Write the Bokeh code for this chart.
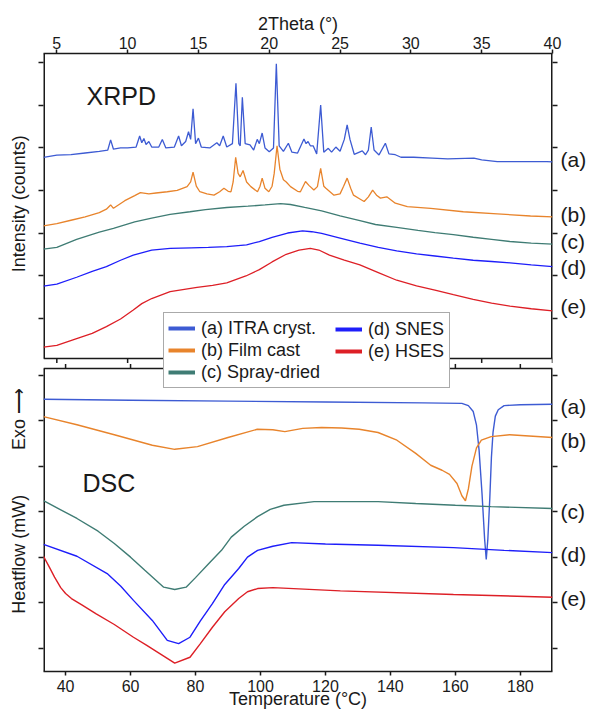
from bokeh.plotting import figure
from bokeh.models import (Range1d, LinearAxis, FixedTicker, Label, Legend, LegendItem,
                          CustomJSTickFormatter)
from bokeh.embed import file_html
from bokeh.resources import INLINE

# ---------------- XRPD data (2Theta in degrees, intensity in arbitrary offset units) -------------
theta_a = [4.06, 5.0, 6.0, 7.0, 8.0, 8.6, 8.8, 9.0, 9.5, 10.0, 10.6, 10.85, 11.0, 11.15, 11.3, 11.5,
           11.7, 12.2, 12.45, 12.7, 13.3, 13.6, 13.8, 14.1, 14.3, 14.45, 14.62, 14.8, 15.0, 15.2,
           15.8, 16.3, 16.5, 16.75, 17.0, 17.4, 17.65, 17.85, 17.95, 18.1, 18.3, 18.64, 18.9,
           19.15, 19.3, 19.5, 19.7, 20.0, 20.3, 20.5, 20.7, 21.0, 21.35, 21.6, 22.0, 22.45, 22.6,
           22.74, 22.9, 23.1, 23.35, 23.63, 23.85, 24.17, 24.4, 24.7, 25.0, 25.3, 25.5, 25.7, 26.0,
           26.57, 26.8, 27.0, 27.2, 27.4, 27.75, 28.2, 28.45, 28.9, 29.3, 30.2, 31.5, 32.6, 34.45,
           35.0, 36.1, 38.0, 39.6, 40.0]
int_a = [3.78, 3.83, 3.84, 3.88, 3.92, 3.95, 4.19, 3.97, 4.0, 4.0, 4.02, 4.28, 4.12, 4.22, 4.08, 4.15,
         4.02, 4.02, 4.20, 4.0, 4.02, 4.28, 4.05, 4.15, 4.38, 4.2, 4.92, 4.1, 4.23, 4.02,
         4.0, 4.12, 4.05, 4.28, 4.02, 4.1, 5.52, 4.1, 4.05, 5.19, 4.1, 4.07, 3.95,
         4.2, 4.1, 4.35, 4.0, 3.91, 4.0, 5.98, 4.05, 3.92, 4.11, 3.9, 3.88, 4.21, 4.1,
         4.15, 4.05, 4.05, 3.86, 5.01, 3.9, 3.99, 3.9, 4.02, 3.92, 4.2, 4.54, 4.2, 3.85,
         3.93, 3.84, 3.95, 4.49, 3.95, 3.835, 4.11, 3.86, 3.84, 3.78, 3.78, 3.76, 3.74, 3.76,
         3.72, 3.68, 3.68, 3.68, 3.67]

theta_b = [4.06, 5.0, 6.0, 7.0, 8.0, 8.5, 8.8, 9.0, 9.8, 10.5, 10.9, 11.5, 12.0, 12.8, 13.5, 14.2,
           14.45, 14.62, 14.85, 15.1, 15.6, 16.1, 16.5, 16.8, 17.1, 17.3, 17.45, 17.63, 17.8, 17.95,
           18.15, 18.4, 18.7, 19.17, 19.35, 19.5, 19.7, 19.97, 20.2, 20.35, 20.55, 20.75, 21.0,
           21.2, 21.5, 22.0, 22.2, 22.56, 22.8, 23.15, 23.4, 23.63, 23.85, 24.0, 24.57, 25.0,
           25.25, 25.5, 25.75, 25.95, 26.4, 26.7, 27.0, 27.3, 27.6, 27.85, 28.3, 28.9, 29.75,
           31.4, 33.7, 36.1, 38.45, 40.0]
int_b = [2.17, 2.22, 2.30, 2.38, 2.48, 2.56, 2.66, 2.58, 2.76, 2.88, 2.95, 2.92, 2.94, 2.97, 3.0, 3.09,
         3.2, 3.43, 3.1, 2.97, 2.92, 2.89, 2.97, 3.05, 2.98, 2.97, 3.2, 3.78, 3.4, 3.32,
         3.47, 3.2, 3.09, 2.97, 3.1, 3.29, 3.05, 2.97, 3.1, 3.4, 4.05, 3.5, 3.25,
         3.2, 3.09, 2.98, 2.97, 3.21, 3.12, 3.01, 3.09, 3.52, 3.1, 3.05, 2.89, 2.92,
         3.1, 3.29, 3.05, 2.89, 2.8, 2.74, 2.85, 3.01, 2.88, 2.82, 2.85, 2.70, 2.62,
         2.58, 2.50, 2.45, 2.40, 2.38]

theta_c = [4.06, 5.0, 6.4, 8.0, 9.0, 10.5, 11.7, 13.0, 14.4, 15.5, 17.0, 18.5, 19.7, 20.8, 21.5,
           22.5, 23.7, 25.0, 26.4, 27.5, 29.0, 30.5, 31.7, 33.0, 34.4, 35.7, 37.0, 38.5, 40.0]
int_c = [1.62, 1.66, 1.85, 2.02, 2.11, 2.26, 2.35, 2.44, 2.50, 2.55, 2.60, 2.63, 2.66, 2.69, 2.67,
         2.60, 2.52, 2.40, 2.29, 2.20, 2.13, 2.06, 2.01, 1.96, 1.90, 1.85, 1.80, 1.76, 1.74]

theta_d = [4.06, 5.0, 6.4, 7.5, 8.5, 9.5, 10.4, 11.7, 13.0, 14.5, 15.7, 17.0, 18.4, 19.3, 20.2,
           21.3, 22.35, 23.0, 23.7, 25.0, 26.4, 27.7, 29.0, 30.4, 31.7, 33.0, 34.4, 35.7, 37.0,
           38.5, 40.0]
int_d = [0.75, 0.80, 0.96, 1.10, 1.21, 1.36, 1.48, 1.60, 1.64, 1.65, 1.66, 1.68, 1.72, 1.80, 1.90,
         2.00, 2.05, 2.03, 1.99, 1.88, 1.76, 1.66, 1.58, 1.51, 1.46, 1.41, 1.36, 1.33, 1.30,
         1.25, 1.21]

theta_e = [4.06, 5.0, 6.4, 7.5, 8.5, 9.5, 10.4, 11.0, 11.7, 13.0, 14.9, 16.0, 17.0, 18.35, 19.3,
           20.2, 21.2, 22.1, 22.9, 23.5, 24.25, 25.3, 26.4, 27.7, 29.0, 30.4, 31.7, 33.0, 34.4,
           35.7, 37.0, 38.5, 40.0]
int_e = [-0.68, -0.64, -0.48, -0.36, -0.20, -0.02, 0.19, 0.34, 0.46, 0.62, 0.72, 0.77, 0.83, 0.99,
         1.14, 1.32, 1.50, 1.60, 1.64, 1.60, 1.48, 1.36, 1.25, 1.07, 0.89, 0.76, 0.66, 0.55,
         0.44, 0.35, 0.28, 0.22, 0.17]

# ---------------- DSC data (Temperature in deg C, heat flow in arbitrary offset units) ----------
temp_a = [33.2, 60, 90, 120, 150, 162, 164, 165.5, 166.5, 167.3, 168.2, 169.0, 169.5, 170.0,
          170.6, 171.1, 171.6, 172.3, 173.2, 175, 180, 189.9]
hf_a = [5.47, 5.45, 5.43, 5.41, 5.39, 5.38, 5.33, 5.2, 4.9, 4.35, 3.4, 2.4, 1.95, 2.4,
        3.3, 4.2, 4.75, 5.1, 5.24, 5.33, 5.35, 5.36]

temp_b = [33.2, 43.5, 55, 66.7, 73.6, 80.6, 90, 99, 103.8, 107.5, 113, 118.8, 125, 130.4, 136.2,
          142, 147.8, 152.4, 155.9, 158.2, 160.5, 162, 163.1, 164, 165.1, 166.5, 168, 171,
          176.7, 189.9]
hf_b = [5.09, 4.91, 4.69, 4.46, 4.37, 4.43, 4.63, 4.81, 4.80, 4.76, 4.83, 4.85, 4.84, 4.81, 4.74,
        4.57, 4.28, 4.02, 3.91, 3.82, 3.62, 3.35, 3.24, 3.5, 4.0, 4.4, 4.57, 4.65,
        4.69, 4.63]

temp_c = [33.2, 43.5, 50, 55, 60, 64.4, 70.2, 73.6, 77.1, 80, 84.1, 88, 91, 95, 99.1, 103,
          107.2, 116.5, 136.2, 147.8, 160, 171, 189.9]
hf_c = [3.24, 2.85, 2.57, 2.30, 2.0, 1.71, 1.34, 1.29, 1.34, 1.55, 1.86, 2.15, 2.44, 2.68, 2.89,
        3.05, 3.14, 3.22, 3.22, 3.18, 3.14, 3.11, 3.07]

temp_d = [33.2, 43.5, 52.8, 57, 60.9, 66.7, 71.3, 74.8, 78.3, 81.5, 85.2, 89, 93.3, 96, 99.1,
          103.8, 109.6, 120, 136.2, 159.4, 175, 189.9]
hf_d = [2.28, 2.02, 1.64, 1.36, 1.05, 0.61, 0.17, 0.10, 0.24, 0.6, 0.98, 1.4, 1.75, 2.0, 2.15,
        2.24, 2.32, 2.29, 2.26, 2.21, 2.15, 2.10]

temp_e = [33.2, 35, 36.6, 38.5, 40, 41.8, 45, 49.3, 55, 60.9, 65, 69, 73.6, 78.3, 81.5, 85.2,
          89, 93.3, 96, 99.1, 103.8, 124.6, 159.4, 189.9]
hf_e = [2.02, 1.78, 1.56, 1.33, 1.20, 1.09, 0.95, 0.76, 0.52, 0.24, 0.06, -0.12, -0.33, -0.20,
        0.1, 0.46, 0.8, 1.09, 1.24, 1.31, 1.33, 1.26, 1.18, 1.12]

series_names = ["(a) ITRA cryst.", "(b) Film cast", "(c) Spray-dried", "(d) SNES", "(e) HSES"]
series_tags = ["(a)", "(b)", "(c)", "(d)", "(e)"]
theta_ticks = [5, 10, 15, 20, 25, 30, 35, 40]
temp_ticks = [40, 60, 80, 100, 120, 140, 160, 180]
xrpd_ticks = [0, 1, 2, 3, 4, 5, 6]
dsc_ticks = [0, 1, 2, 3, 4, 5, 6]

# ---------------- styling / layout ----------------
FONT = "Liberation Sans"
INK = "#1a1a1a"
COLORS = ["#3d5bd3", "#e8842c", "#3f7c74", "#1e1efa", "#dd1f26"]

TH_LO, TH_HI = 4.06, 40.0
T_LO, T_HI = 33.2, 189.9
XR_LO, XR_HI = -8.306, 6.219
DSC_LO, DSC_HI = -0.513, 13.069
XR_SEP = -0.948     # lower edge of the XRPD panel
DSC_SEP = 6.147     # upper edge of the DSC panel

# page-pixel helpers for annotation placement (frame: 43..552 x 54..671)
FL, FR, FT, FB = 43.0, 552.0, 54.0, 671.0
def tx(px): return TH_LO + (px - FL) / (FR - FL) * (TH_HI - TH_LO)
def Tx(px): return T_LO + (px - FL) / (FR - FL) * (T_HI - T_LO)
def vy(py): return XR_HI - (py - FT) / (FB - FT) * (XR_HI - XR_LO)
def uy(py): return DSC_HI - (py - FT) / (FB - FT) * (DSC_HI - DSC_LO)
def v2u(v): return DSC_LO + (v - XR_LO) * (DSC_HI - DSC_LO) / (XR_HI - XR_LO)
PX_V = (XR_HI - XR_LO) / (FB - FT)
PX_U = (DSC_HI - DSC_LO) / (FB - FT)

p = figure(width=590, height=714, output_backend="svg", toolbar_location=None,
           x_range=Range1d(T_LO, T_HI), y_range=Range1d(DSC_LO, DSC_HI),
           min_border_left=43, min_border_right=38, min_border_top=53, min_border_bottom=43)
p.extra_x_ranges = {"theta": Range1d(TH_LO, TH_HI)}
p.extra_y_ranges = {"xrpd": Range1d(XR_LO, XR_HI)}
p.grid.visible = False
p.outline_line_color = None
p.background_fill_color = "white"
p.border_fill_color = "white"

def style_axis(ax):
    ax.axis_line_color = INK
    ax.axis_line_width = 1.5
    ax.major_tick_line_color = INK
    ax.major_tick_line_width = 1.5
    ax.major_tick_in = 0
    ax.major_tick_out = 5
    ax.minor_tick_line_color = None
    ax.major_label_text_font = FONT
    ax.major_label_text_color = INK
    ax.major_label_text_font_size = "16px"
    ax.axis_label_text_font = FONT
    ax.axis_label_text_font_style = "normal"
    ax.axis_label_text_font_size = "18px"
    ax.axis_label_text_color = INK

# bottom temperature axis
xb = p.xaxis[0]
xb.ticker = FixedTicker(ticks=temp_ticks)
xb.axis_label = "Temperature (°C)"
style_axis(xb)
xb.major_tick_out = 4
xb.major_label_standoff = 4
xb.axis_label_standoff = -6

# top 2Theta axis
xt = LinearAxis(x_range_name="theta", ticker=FixedTicker(ticks=theta_ticks), axis_label="2Theta (°)")
style_axis(xt)
xt.major_tick_out = 4
xt.major_label_standoff = 1
xt.axis_label_standoff = 0
p.add_layout(xt, "above")

# left / right tick-only axes (ticks of both panels, drawn as label-less minor ticks)
all_y_ticks = [v2u(v) for v in xrpd_ticks] + list(dsc_ticks)
def tick_only(ax):
    style_axis(ax)
    ax.ticker = FixedTicker(ticks=[], minor_ticks=all_y_ticks)
    ax.axis_line_color = None
    ax.major_tick_line_color = None
    ax.minor_tick_line_color = INK
    ax.minor_tick_line_width = 1.5
    ax.minor_tick_in = 0
    ax.minor_tick_out = 5
    ax.major_label_standoff = 0
yl = p.yaxis[0]
tick_only(yl)
yr = LinearAxis()
tick_only(yr)
p.add_layout(yr, "right")

LABEL_JS = """
const i = pos.findIndex(v => Math.abs(v - tick) < 1e-6);
return i >= 0 ? labs[i] : "";
"""
def label_axis(pos, labs, size, standoff, orientation):
    ax = LinearAxis(ticker=FixedTicker(ticks=pos),
                    formatter=CustomJSTickFormatter(args=dict(pos=pos, labs=labs), code=LABEL_JS))
    style_axis(ax)
    ax.axis_line_color = None
    ax.major_tick_line_color = None
    ax.major_tick_out = 0
    ax.major_label_text_font_size = size
    ax.major_label_standoff = standoff
    ax.major_label_orientation = orientation
    return ax

# left: y-axis titles of both panels
left_texts = ["Intensity (counts)", "Exo \u27f6", "Heatflow (mW)"]
left_pos = [uy(204), uy(419), uy(554)]
p.add_layout(label_axis(left_pos, left_texts, "18px", 9, "vertical"), "left")

# right: curve tags of both panels
xrpd_tag_py = [160, 215, 242, 268, 307]
dsc_tag_py = [406, 440, 511, 554, 598]
right_pos = [uy(py) for py in xrpd_tag_py] + [uy(py) for py in dsc_tag_py]
p.add_layout(label_axis(right_pos, series_tags + series_tags, "21px", 3, "horizontal"), "right")

# panel frames (side edges half-clipped at the frame border, separators between panels)
p.segment(x0=[TH_LO, TH_HI], y0=[XR_SEP, XR_SEP], x1=[TH_LO, TH_HI], y1=[XR_HI, XR_HI],
          x_range_name="theta", y_range_name="xrpd", line_color=INK, line_width=3)
p.segment(x0=[TH_LO], y0=[XR_SEP], x1=[TH_HI], y1=[XR_SEP],
          x_range_name="theta", y_range_name="xrpd", line_color=INK, line_width=1.5)
p.segment(x0=[T_LO, T_HI], y0=[DSC_LO, DSC_LO], x1=[T_LO, T_HI], y1=[DSC_SEP, DSC_SEP],
          line_color=INK, line_width=3)
p.segment(x0=[T_LO], y0=[DSC_SEP], x1=[T_HI], y1=[DSC_SEP], line_color=INK, line_width=1.5)
# ticks on the inner panel edges
p.segment(x0=theta_ticks, y0=[XR_SEP] * len(theta_ticks), x1=theta_ticks,
          y1=[XR_SEP - 4.5 * PX_V] * len(theta_ticks),
          x_range_name="theta", y_range_name="xrpd", line_color=INK, line_width=1.5)
p.segment(x0=temp_ticks, y0=[DSC_SEP] * len(temp_ticks), x1=temp_ticks,
          y1=[DSC_SEP + 4.5 * PX_U] * len(temp_ticks), line_color=INK, line_width=1.5)

# XRPD curves
xrpd = [(theta_a, int_a), (theta_b, int_b), (theta_c, int_c), (theta_d, int_d), (theta_e, int_e)]
for (xs, ys), col in zip(xrpd, COLORS):
    p.line(xs, ys, x_range_name="theta", y_range_name="xrpd", line_color=col, line_width=1.3)

# DSC curves
dsc = [(temp_a, hf_a), (temp_b, hf_b), (temp_c, hf_c), (temp_d, hf_d), (temp_e, hf_e)]
for (xs, ys), col in zip(dsc, COLORS):
    p.line(xs, ys, line_color=col, line_width=1.4)

# panel titles
p.add_layout(Label(x=tx(86), y=vy(96), x_range_name="theta", y_range_name="xrpd", text="XRPD",
                   text_font=FONT, text_font_size="25px", text_color=INK,
                   text_baseline="middle", text_align="left"))
p.add_layout(Label(x=Tx(82), y=uy(483), text="DSC",
                   text_font=FONT, text_font_size="25px", text_color=INK,
                   text_baseline="middle", text_align="left"))

# legend (one framed box; second column overlaid)
NAN = float("nan")
dummies = [p.line(x=[NAN], y=[NAN], line_color=c, line_width=4) for c in COLORS]
leg_common = dict(orientation="vertical", padding=4, spacing=0, margin=0,
                  glyph_width=27, glyph_height=22, label_height=22, label_standoff=6,
                  label_text_font=FONT, label_text_font_size="18px", label_text_color=INK)
leg1 = Legend(items=[LegendItem(label=series_names[i], renderers=[dummies[i]]) for i in range(3)],
              location=(120, 283), label_width=244,
              border_line_color="#555555", border_line_width=1.2,
              background_fill_color="white", background_fill_alpha=1.0, **leg_common)
leg2 = Legend(items=[LegendItem(label=series_names[i], renderers=[dummies[i]]) for i in range(3, 5)],
              location=(288, 305), border_line_alpha=0.0, background_fill_alpha=0.0, **leg_common)
p.add_layout(leg1)
p.add_layout(leg2)

open("out.html", "w").write(file_html(p, INLINE))
